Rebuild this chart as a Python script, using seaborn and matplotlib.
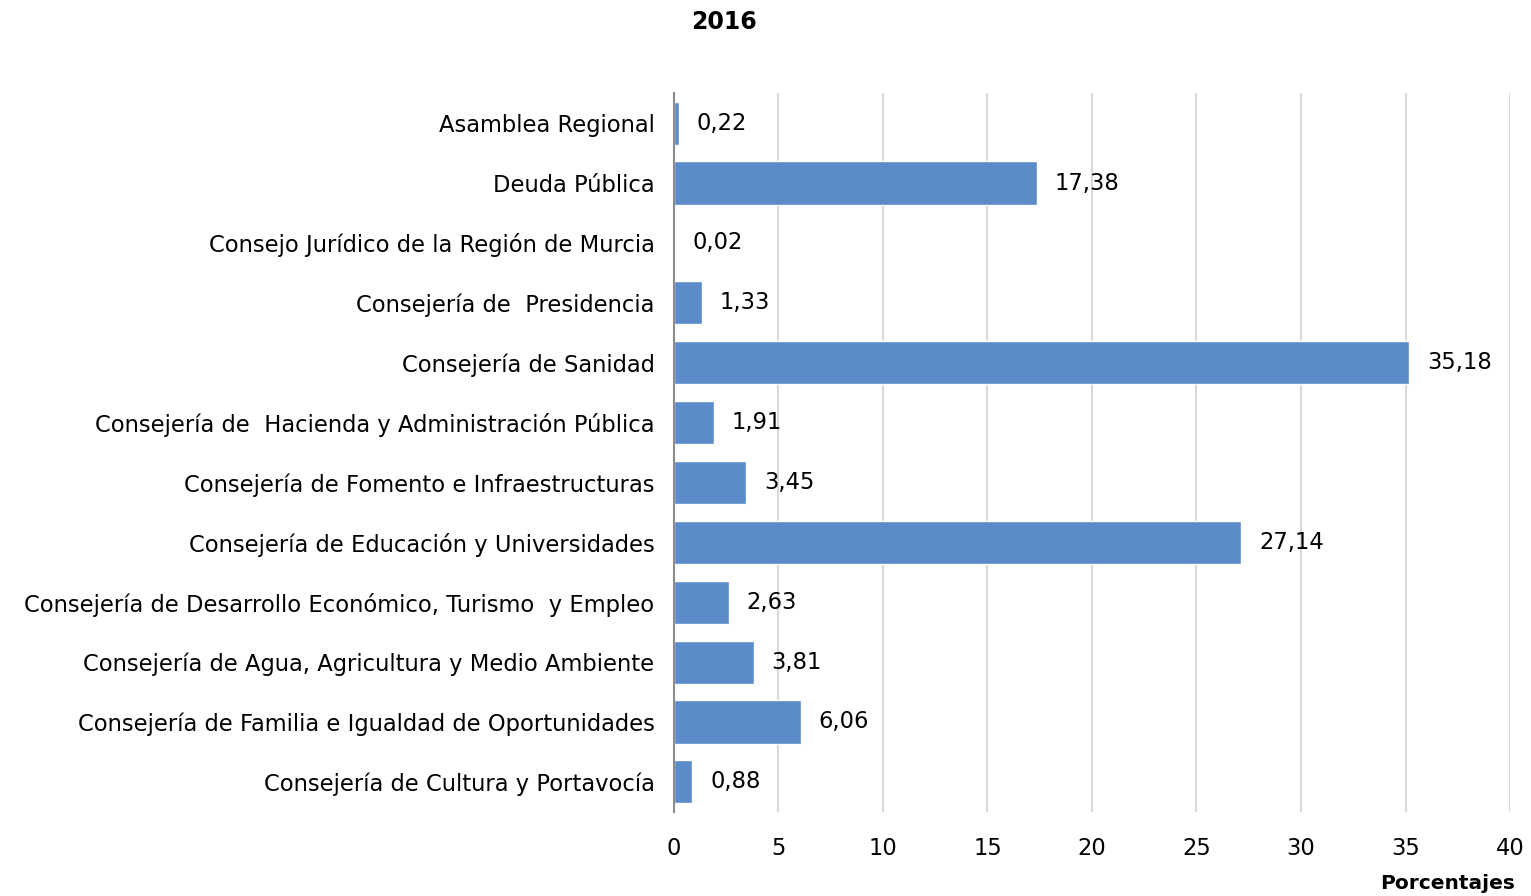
import matplotlib
matplotlib.use("Agg")
import matplotlib.pyplot as plt
import seaborn as sns
import pandas as pd

categorias = [
    "Asamblea Regional",
    "Deuda Pública",
    "Consejo Jurídico de la Región de Murcia",
    "Consejería de  Presidencia",
    "Consejería de Sanidad",
    "Consejería de  Hacienda y Administración Pública",
    "Consejería de Fomento e Infraestructuras",
    "Consejería de Educación y Universidades",
    "Consejería de Desarrollo Económico, Turismo  y Empleo",
    "Consejería de Agua, Agricultura y Medio Ambiente",
    "Consejería de Familia e Igualdad de Oportunidades",
    "Consejería de Cultura y Portavocía",
]
porcentajes = [0.22, 17.38, 0.02, 1.33, 35.18, 1.91, 3.45, 27.14, 2.63, 3.81, 6.06, 0.88]

df = pd.DataFrame({"cat": categorias, "pct": porcentajes})

sns.set_style("white")
plt.rcParams["font.family"] = ["DejaVu Sans"]
plt.rcParams["text.color"] = "black"

fig = plt.figure(figsize=(15.31, 8.96), dpi=100)
ax = fig.add_axes([0.4402, 0.094, 0.5461, 0.802])

sns.barplot(data=df, x="pct", y="cat", color="#5B8BC8", saturation=1,
            width=0.72, ax=ax, orient="h")

ax.set_xlim(0, 40)
ax.set_xticks(range(0, 41, 5))
ax.xaxis.grid(True, color="#d9d9d9", linewidth=1.5)
ax.set_axisbelow(True)
for s in ["top", "right", "bottom"]:
    ax.spines[s].set_visible(False)
ax.spines["left"].set_color("#8c8c8c")
ax.spines["left"].set_linewidth(1.5)
ax.tick_params(axis="both", length=0, labelsize=16.3, colors="black")
ax.tick_params(axis="x", pad=18)
ax.tick_params(axis="y", pad=14)
ax.set_ylabel("")
ax.set_xlabel("")

for i, v in enumerate(porcentajes):
    ax.text(v + 0.85, i, f"{v:.2f}".replace(".", ","), va="center", ha="left",
            fontsize=16.3, color="black")

fig.text(724 / 1531, 1 - 22 / 896, "2016", ha="center", va="center",
         fontsize=17, fontweight="bold", color="black")
fig.text(1515 / 1531, 1 - 883 / 896, "Porcentajes", ha="right", va="center",
         fontsize=14.5, fontweight="bold", color="black")

fig.savefig("out.png", dpi=100)
